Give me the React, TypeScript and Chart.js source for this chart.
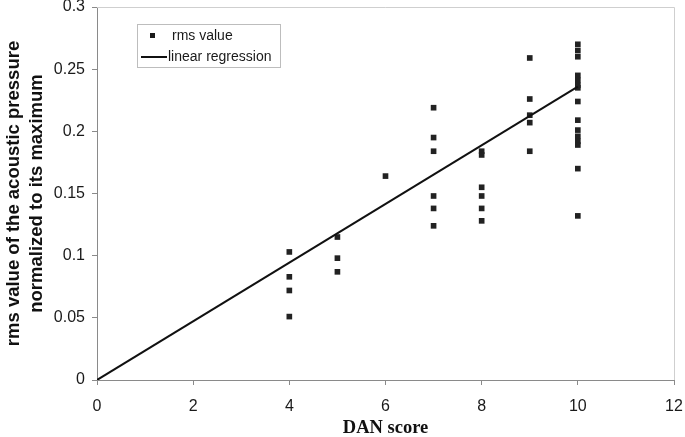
import React, { useEffect, useRef } from "react";
import { Chart, registerables } from "chart.js";

Chart.register(...registerables);

const danScores = [
  4, 4, 4, 4,
  5, 5, 5,
  6,
  7, 7, 7, 7, 7, 7,
  8, 8, 8, 8, 8, 8,
  9, 9, 9, 9, 9,
  10, 10, 10, 10, 10, 10, 10, 10, 10, 10, 10, 10, 10, 10, 10,
];
const rmsValues = [
  0.103, 0.083, 0.072, 0.051,
  0.115, 0.098, 0.087,
  0.164,
  0.219, 0.195, 0.184, 0.148, 0.138, 0.124,
  0.184, 0.181, 0.155, 0.148, 0.138, 0.128,
  0.259, 0.226, 0.213, 0.207, 0.184,
  0.27, 0.265, 0.26, 0.245, 0.241, 0.237, 0.235, 0.224, 0.209, 0.201, 0.196, 0.192, 0.189, 0.17, 0.132,
];
const regressionX = [0, 10];
const regressionY = [0, 0.236];

const xTickLabels = ["0", "2", "4", "6", "8", "10", "12"];
const yTickLabels = ["0", "0.05", "0.1", "0.15", "0.2", "0.25", "0.3"];

const seriesLabels = ["rms value", "linear regression"];
const axisTitles = {
  x: "DAN score",
  y: ["rms value of the acoustic pressure", "normalized to its maximum"],
};

const frameAndLegend = {
  id: "frameAndLegend",
  beforeDatasetsDraw(chart: any) {
    const { ctx, chartArea } = chart;
    ctx.save();
    ctx.strokeStyle = "#cfcfcf";
    ctx.lineWidth = 1;
    ctx.beginPath();
    ctx.moveTo(chartArea.left, chartArea.top + 0.5);
    ctx.lineTo(chartArea.right + 0.5, chartArea.top + 0.5);
    ctx.lineTo(chartArea.right + 0.5, chartArea.bottom);
    ctx.stroke();
    ctx.restore();
  },
  afterDatasetsDraw(chart: any) {
    const { ctx, chartArea } = chart;
    const ds = chart.data.datasets;
    const bx = chartArea.left + 40;
    const by = chartArea.top + 17;
    const bw = 143;
    const bh = 43;
    ctx.save();
    ctx.fillStyle = "#ffffff";
    ctx.fillRect(bx, by, bw, bh);
    ctx.strokeStyle = "#bdbdbd";
    ctx.lineWidth = 1;
    ctx.strokeRect(bx + 0.5, by + 0.5, bw, bh);
    ctx.font = "14px 'Liberation Sans', Arial, sans-serif";
    ctx.fillStyle = "#1a1a1a";
    ctx.textBaseline = "middle";
    ctx.fillRect(bx + 13, by + 9, 5, 5);
    ctx.fillText(ds[0].label, bx + 35, by + 12);
    ctx.strokeStyle = "#111";
    ctx.lineWidth = 2;
    ctx.beginPath();
    ctx.moveTo(bx + 4, by + 33);
    ctx.lineTo(bx + 30, by + 33);
    ctx.stroke();
    ctx.fillText(ds[1].label, bx + 31, by + 33);
    ctx.restore();
  },
};

export default function App() {
  const ref = useRef<HTMLCanvasElement>(null);
  useEffect(() => {
    document.body.style.margin = "0";
    const canvas = ref.current!;
    const tickFont = { family: "'Liberation Sans', Arial, sans-serif", size: 16 };
    const chart = new Chart(canvas, {
      type: "scatter",
      data: {
        datasets: [
          {
            type: "scatter",
            label: seriesLabels[0],
            data: danScores.map((x, i) => ({ x, y: rmsValues[i] })),
            pointStyle: "rect",
            pointRadius: 4,
            pointBackgroundColor: "#222",
            pointBorderWidth: 0,
            borderColor: "#222",
            order: 2,
          },
          {
            type: "line",
            label: seriesLabels[1],
            data: regressionX.map((x, i) => ({ x, y: regressionY[i] })),
            borderColor: "#111",
            borderWidth: 2,
            pointRadius: 0,
            fill: false,
            order: 1,
          } as any,
        ],
      },
      options: {
        animation: false,
        responsive: false,
        maintainAspectRatio: false,
        layout: { padding: { top: 7, right: 11, left: 0, bottom: 0 } },
        plugins: {
          legend: { display: false },
          tooltip: { enabled: false },
        },
        scales: {
          x: {
            type: "linear",
            min: 0,
            max: 12,
            ticks: {
              stepSize: 2,
              font: tickFont,
              color: "#1a1a1a",
              padding: 12,
              callback: (v: any) => xTickLabels[Math.round(Number(v) / 2)] ?? "",
            },
            grid: {
              display: true,
              drawOnChartArea: false,
              drawTicks: true,
              tickLength: 5,
              color: "#8a8a8a",
            },
            border: { display: true, color: "#8a8a8a", width: 1 },
            title: {
              display: true,
              text: axisTitles.x,
              font: { family: "'Liberation Serif', 'Times New Roman', serif", size: 18.5, weight: "bold" },
              color: "#111",
              padding: { top: 0, bottom: -2 },
            },
            afterFit: (scale: any) => {
              scale.height = 57;
              scale.paddingLeft = 0;
              scale.paddingRight = 0;
            },
          },
          y: {
            type: "linear",
            min: 0,
            max: 0.3,
            ticks: {
              stepSize: 0.05,
              font: tickFont,
              color: "#1a1a1a",
              padding: 7,
              callback: (v: any) => yTickLabels[Math.round(Number(v) / 0.05)] ?? "",
            },
            grid: {
              display: true,
              drawOnChartArea: false,
              drawTicks: true,
              tickLength: 5,
              color: "#8a8a8a",
            },
            border: { display: true, color: "#8a8a8a", width: 1 },
            title: {
              display: true,
              text: axisTitles.y,
              font: { family: "'Liberation Sans', Arial, sans-serif", size: 18.5, weight: "bold", lineHeight: 1.24 },
              color: "#111",
              padding: { top: 2.5, bottom: 0 },
            },
            afterFit: (scale: any) => {
              scale.width = 97;
              scale.paddingTop = 0;
              scale.paddingBottom = 0;
            },
          },
        },
      },
      plugins: [frameAndLegend],
    });
    return () => chart.destroy();
  }, []);
  return (
    <div style={{ width: 685, height: 437, background: "#fff" }}>
      <canvas ref={ref} width={685} height={437} style={{ display: "block" }} />
    </div>
  );
}
